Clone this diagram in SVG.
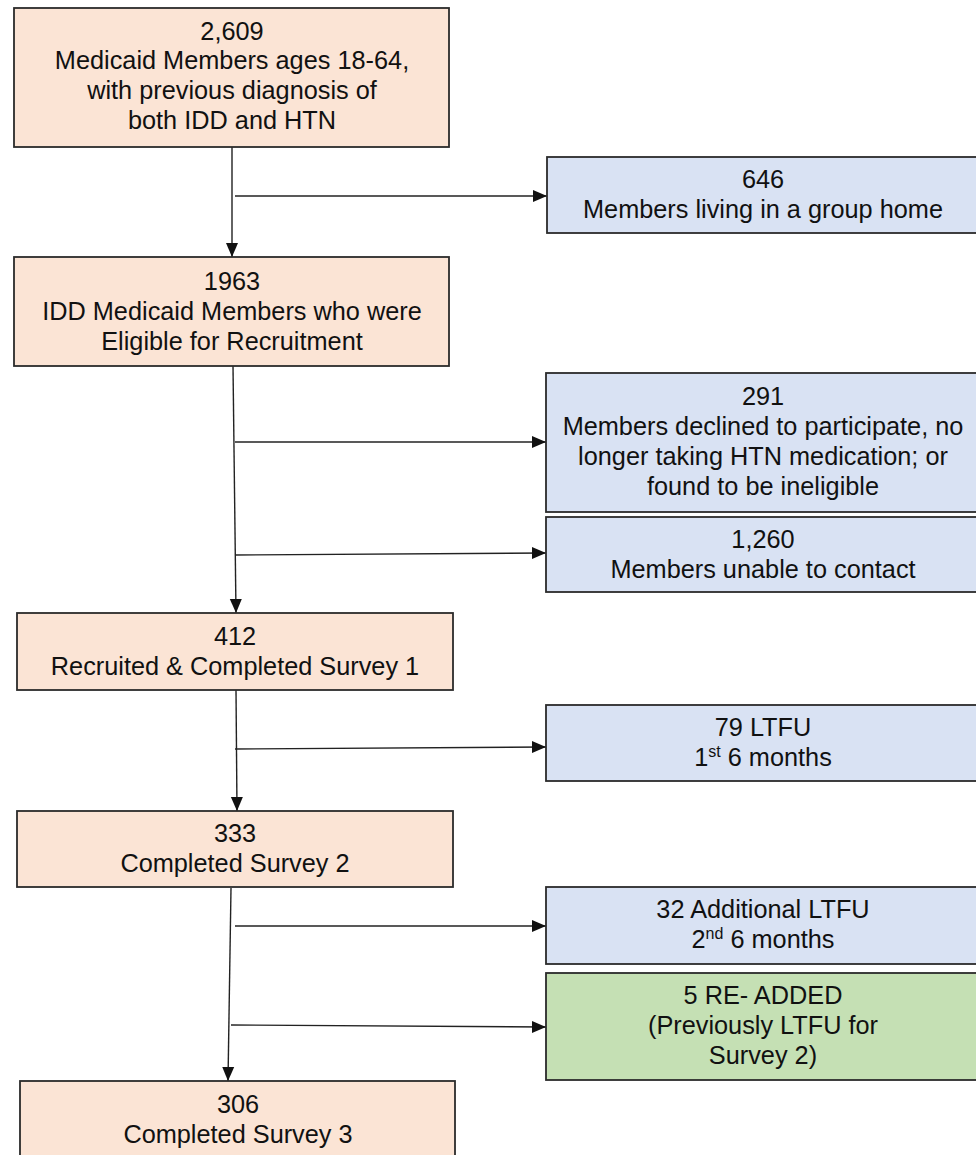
<svg xmlns="http://www.w3.org/2000/svg" width="976" height="1155" viewBox="0 0 976 1155">
<style>
.o{fill:#fbe4d5;stroke:#2b2b2b;stroke-width:1.8}
.b{fill:#d9e2f3;stroke:#2b2b2b;stroke-width:1.8}
.g{fill:#c5e0b4;stroke:#2b2b2b;stroke-width:1.8}
text{font-family:"Liberation Sans",Arial,sans-serif;font-size:25.3px;fill:#111;text-anchor:middle}
.sup{font-size:16px}
.c{fill:none;stroke:#222;stroke-width:1.4;marker-end:url(#ah)}
</style>
<defs>
<marker id="ah" markerUnits="userSpaceOnUse" markerWidth="15" markerHeight="15" viewBox="0 0 15 15" refX="14" refY="7.5" orient="auto">
<path d="M0,1.5 L14,7.5 L0,13.5 Z" fill="#111"/>
</marker>
</defs>
<rect width="976" height="1155" fill="#fff"/>
<g id="connectors">
<path class="c" d="M232,147 L232,257"/>
<path class="c" d="M235,196 L547,196"/>
<path class="c" d="M233,366 L236,613"/>
<path class="c" d="M235,442 L546,442"/>
<path class="c" d="M235,555 L546,553"/>
<path class="c" d="M236,690 L237,811"/>
<path class="c" d="M235,749 L546,747"/>
<path class="c" d="M231,888 L228,1081"/>
<path class="c" d="M235,926 L546,926"/>
<path class="c" d="M231,1025 L546,1027"/>
</g>
<g id="n2609">
<rect class="o" x="14" y="8" width="435" height="139"/>
<text x="232" y="40">2,609</text>
<text x="232" y="69">Medicaid Members ages 18-64,</text>
<text x="232" y="99">with previous diagnosis of</text>
<text x="232" y="129">both IDD and HTN</text>
</g>
<g id="n646">
<rect class="b" x="547" y="157" width="433" height="76"/>
<text x="763" y="188">646</text>
<text x="763" y="218">Members living in a group home</text>
</g>
<g id="n1963">
<rect class="o" x="14" y="257" width="435" height="109"/>
<text x="232" y="290">1963</text>
<text x="232" y="320">IDD Medicaid Members who were</text>
<text x="232" y="350">Eligible for Recruitment</text>
</g>
<g id="n291">
<rect class="b" x="546" y="373" width="434" height="139"/>
<text x="763" y="405">291</text>
<text x="763" y="435">Members declined to participate, no</text>
<text x="763" y="465">longer taking HTN medication; or</text>
<text x="763" y="495">found to be ineligible</text>
</g>
<g id="n1260">
<rect class="b" x="546" y="517" width="434" height="75"/>
<text x="763" y="548">1,260</text>
<text x="763" y="578">Members unable to contact</text>
</g>
<g id="n412">
<rect class="o" x="17" y="613" width="436" height="77"/>
<text x="235" y="645">412</text>
<text x="235" y="675">Recruited &amp; Completed Survey 1</text>
</g>
<g id="n79">
<rect class="b" x="546" y="705" width="434" height="76"/>
<text x="763" y="736">79 LTFU</text>
<text x="763" y="766">1<tspan class="sup" dy="-9">st</tspan><tspan dy="9"> 6 months</tspan></text>
</g>
<g id="n333">
<rect class="o" x="17" y="811" width="436" height="76"/>
<text x="235" y="842">333</text>
<text x="235" y="872">Completed Survey 2</text>
</g>
<g id="n32">
<rect class="b" x="546" y="887" width="434" height="77"/>
<text x="763" y="918">32 Additional LTFU</text>
<text x="763" y="948">2<tspan class="sup" dy="-9">nd</tspan><tspan dy="9"> 6 months</tspan></text>
</g>
<g id="n5">
<rect class="g" x="546" y="973" width="434" height="107"/>
<text x="763" y="1004">5 RE- ADDED</text>
<text x="763" y="1034">(Previously LTFU for</text>
<text x="763" y="1064">Survey 2)</text>
</g>
<g id="n306">
<rect class="o" x="20" y="1081" width="435" height="85"/>
<text x="238" y="1113">306</text>
<text x="238" y="1143">Completed Survey 3</text>
</g>
</svg>
